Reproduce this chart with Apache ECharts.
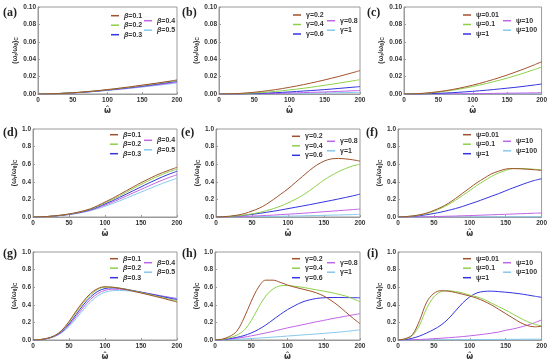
<!DOCTYPE html>
<html><head><meta charset="utf-8">
<script src="https://cdn.jsdelivr.net/npm/echarts@6/dist/echarts.min.js"></script>
<style>html,body{margin:0;padding:0;background:#fff}#c{width:550px;height:362px}</style>
</head><body><div id="c"></div>
<script>
const omega = [0,10,20,30,40,50,60,70,80,90,100,110,120,130,140,150,160,170,180,190,200];
const xTicks = [0,50,100,150,200];
const betaNames = ['β=0.1','β=0.2','β=0.3','β=0.4','β=0.5'];
const gammaNames = ['γ=0.2','γ=0.4','γ=0.6','γ=0.8','γ=1'];
const psiNames = ['ψ=0.01','ψ=0.1','ψ=1','ψ=10','ψ=100'];
const panelLabels = ['(a)','(b)','(c)','(d)','(e)','(f)','(g)','(h)','(i)'];

// (a)
const a1 = [0,0.0001,0.0003,0.0006,0.001,0.0015,0.002,0.0027,0.0034,0.0042,0.0051,0.006,0.007,0.008,0.0091,0.0102,0.0113,0.0124,0.0136,0.0148,0.0162];
const a2 = [0,0.0001,0.0003,0.0006,0.001,0.0014,0.0019,0.0026,0.0033,0.0041,0.0049,0.0058,0.0067,0.0077,0.0087,0.0098,0.0109,0.012,0.0131,0.0143,0.0155];
const a3 = [0,0.0001,0.0003,0.0005,0.0009,0.0013,0.0018,0.0024,0.0031,0.0038,0.0046,0.0054,0.0063,0.0072,0.0081,0.0091,0.0101,0.0112,0.0123,0.0134,0.0145];
const a4 = [0,0.0001,0.0002,0.0005,0.0008,0.0012,0.0017,0.0023,0.0029,0.0036,0.0043,0.0051,0.0059,0.0067,0.0076,0.0085,0.0095,0.0104,0.0114,0.0125,0.0135];
const a5 = [0,0.0001,0.0002,0.0005,0.0008,0.0012,0.0016,0.0021,0.0027,0.0034,0.0041,0.0048,0.0055,0.0063,0.0071,0.008,0.0089,0.0098,0.0107,0.0116,0.0125];
// (b)
const b1 = [0,0.0001,0.0003,0.0007,0.0013,0.002,0.0029,0.0039,0.005,0.0063,0.0077,0.0092,0.0108,0.0125,0.0143,0.0162,0.0182,0.0202,0.0224,0.0246,0.0269];
const b2 = [0,0.0001,0.0002,0.0005,0.0008,0.0012,0.0017,0.0023,0.003,0.0038,0.0047,0.0056,0.0066,0.0077,0.0088,0.01,0.0112,0.0125,0.0138,0.0151,0.0165];
const b3 = [0,0,0.0001,0.0002,0.0004,0.0006,0.0009,0.0012,0.0015,0.0019,0.0024,0.0029,0.0034,0.0039,0.0045,0.0051,0.0057,0.0064,0.0071,0.0078,0.0085];
const b4 = [0,0,0.0001,0.0001,0.0002,0.0003,0.0004,0.0005,0.0007,0.0009,0.0011,0.0013,0.0016,0.0018,0.0021,0.0024,0.0027,0.003,0.0033,0.0037,0.004];
const b5 = [0,0,0,0.0001,0.0001,0.0001,0.0002,0.0003,0.0004,0.0005,0.0006,0.0007,0.0008,0.0009,0.001,0.0012,0.0013,0.0015,0.0016,0.0018,0.002];
// (c)
const c1 = [0,0.0001,0.0004,0.0009,0.0017,0.0027,0.0038,0.0051,0.0066,0.0083,0.0102,0.0122,0.0144,0.0167,0.0192,0.0218,0.0246,0.0275,0.0305,0.0337,0.037];
const c2 = [0,0.0001,0.0003,0.0008,0.0014,0.0022,0.0032,0.0043,0.0056,0.007,0.0086,0.0103,0.0121,0.0141,0.0161,0.0183,0.0206,0.023,0.0256,0.0282,0.031];
const c3 = [0,0,0.0001,0.0003,0.0005,0.0008,0.0011,0.0015,0.002,0.0025,0.0031,0.0037,0.0044,0.0051,0.0059,0.0067,0.0075,0.0084,0.0094,0.0104,0.0115];
const c4 = [0,0,0,0,0.0001,0.0001,0.0001,0.0002,0.0002,0.0003,0.0004,0.0005,0.0006,0.0007,0.0008,0.0009,0.001,0.0011,0.0012,0.0013,0.0015];
const c5 = [0,0,0,0,0,0,0,0,0,0,0.0001,0.0001,0.0001,0.0001,0.0001,0.0001,0.0001,0.0001,0.0002,0.0002,0.0002];
// (d)
const d1 = [0,0.002,0.006,0.013,0.022,0.034,0.05,0.07,0.094,0.13,0.17,0.21,0.255,0.3,0.345,0.39,0.43,0.47,0.505,0.535,0.565];
const d2 = [0,0.002,0.006,0.012,0.021,0.033,0.048,0.067,0.09,0.122,0.16,0.198,0.24,0.283,0.327,0.37,0.41,0.45,0.485,0.517,0.545];
const d3 = [0,0.002,0.005,0.011,0.02,0.031,0.045,0.062,0.084,0.113,0.148,0.183,0.222,0.262,0.302,0.342,0.382,0.42,0.457,0.49,0.52];
const d4 = [0,0.002,0.005,0.011,0.019,0.029,0.042,0.058,0.078,0.104,0.135,0.167,0.203,0.24,0.277,0.313,0.35,0.386,0.42,0.452,0.48];
const d5 = [0,0.002,0.005,0.01,0.018,0.027,0.039,0.054,0.072,0.095,0.122,0.151,0.183,0.216,0.25,0.283,0.317,0.35,0.382,0.412,0.44];
// (e)
const e1 = [0,0.003,0.01,0.022,0.04,0.068,0.1,0.145,0.2,0.26,0.32,0.39,0.46,0.53,0.59,0.635,0.66,0.665,0.66,0.65,0.635];
const e2 = [0,0.002,0.006,0.013,0.022,0.036,0.052,0.072,0.096,0.125,0.16,0.2,0.245,0.3,0.36,0.42,0.47,0.515,0.55,0.58,0.6];
const e3 = [0,0.002,0.006,0.012,0.02,0.03,0.041,0.053,0.066,0.08,0.095,0.11,0.125,0.14,0.156,0.172,0.188,0.205,0.222,0.24,0.26];
const e4 = [0,0.001,0.002,0.004,0.007,0.01,0.014,0.018,0.022,0.027,0.032,0.037,0.042,0.048,0.054,0.06,0.066,0.072,0.078,0.084,0.09];
const e5 = [0,0,0.001,0.001,0.002,0.003,0.004,0.005,0.007,0.008,0.01,0.011,0.013,0.015,0.017,0.019,0.021,0.023,0.025,0.027,0.03];
// (f)
const f1 = [0,0.004,0.012,0.025,0.045,0.075,0.11,0.155,0.21,0.27,0.33,0.39,0.44,0.49,0.52,0.545,0.55,0.548,0.543,0.537,0.53];
const f2 = [0,0.003,0.01,0.022,0.04,0.065,0.1,0.14,0.19,0.245,0.3,0.36,0.41,0.46,0.5,0.53,0.55,0.552,0.548,0.542,0.535];
const f3 = [0,0.002,0.007,0.015,0.026,0.04,0.056,0.075,0.096,0.12,0.148,0.175,0.205,0.235,0.265,0.298,0.33,0.36,0.39,0.415,0.435];
const f4 = [0,0,0.001,0.002,0.003,0.005,0.007,0.009,0.011,0.014,0.016,0.019,0.022,0.025,0.028,0.031,0.034,0.037,0.04,0.043,0.046];
const f5 = [0,0,0,0,0,0.001,0.001,0.001,0.001,0.001,0.002,0.002,0.002,0.002,0.003,0.003,0.003,0.003,0.004,0.004,0.004];
// (g)
const g1 = [0,0.005,0.02,0.05,0.11,0.21,0.33,0.44,0.53,0.585,0.605,0.6,0.588,0.572,0.553,0.534,0.515,0.495,0.475,0.453,0.432];
const g2 = [0,0.005,0.019,0.048,0.105,0.2,0.315,0.425,0.515,0.575,0.6,0.6,0.59,0.575,0.557,0.54,0.521,0.502,0.482,0.462,0.443];
const g3 = [0,0.004,0.018,0.045,0.097,0.182,0.29,0.4,0.49,0.553,0.585,0.592,0.588,0.576,0.56,0.544,0.527,0.51,0.492,0.475,0.458];
const g4 = [0,0.004,0.017,0.042,0.09,0.168,0.268,0.372,0.463,0.528,0.565,0.577,0.577,0.57,0.558,0.544,0.529,0.514,0.498,0.483,0.468];
const g5 = [0,0.004,0.016,0.039,0.083,0.152,0.245,0.345,0.435,0.502,0.543,0.56,0.563,0.56,0.551,0.539,0.526,0.513,0.499,0.486,0.475];
// (h)
const h1 = [0,0.01,0.04,0.1,0.25,0.44,0.6,0.68,0.68,0.655,0.625,0.6,0.58,0.56,0.535,0.5,0.45,0.39,0.32,0.25,0.185];
const h2 = [0,0.006,0.025,0.055,0.11,0.22,0.37,0.5,0.58,0.615,0.62,0.61,0.6,0.585,0.57,0.555,0.54,0.52,0.5,0.47,0.435];
const h3 = [0,0.004,0.015,0.03,0.05,0.08,0.12,0.17,0.23,0.29,0.345,0.39,0.43,0.455,0.472,0.48,0.483,0.483,0.482,0.481,0.48];
const h4 = [0,0.003,0.01,0.02,0.032,0.047,0.063,0.08,0.098,0.118,0.138,0.155,0.172,0.19,0.207,0.223,0.24,0.255,0.27,0.285,0.3];
const h5 = [0,0.001,0.004,0.008,0.012,0.017,0.022,0.027,0.033,0.039,0.045,0.051,0.057,0.063,0.069,0.075,0.082,0.089,0.097,0.106,0.116];
// (i)
const i1 = [0,0.015,0.06,0.22,0.43,0.53,0.56,0.555,0.54,0.52,0.5,0.475,0.44,0.4,0.35,0.3,0.25,0.2,0.165,0.15,0.155];
const i2 = [0,0.012,0.05,0.17,0.36,0.49,0.55,0.56,0.55,0.535,0.51,0.49,0.46,0.42,0.38,0.34,0.295,0.25,0.21,0.18,0.16];
const i3 = [0,0.005,0.02,0.045,0.08,0.12,0.17,0.24,0.33,0.42,0.49,0.535,0.552,0.555,0.55,0.543,0.535,0.525,0.512,0.498,0.485];
const i4 = [0,0.001,0.003,0.006,0.01,0.015,0.02,0.026,0.032,0.039,0.047,0.056,0.066,0.077,0.09,0.11,0.125,0.145,0.168,0.196,0.228];
const i5 = [0,0,0.001,0.001,0.002,0.002,0.003,0.003,0.004,0.004,0.005,0.005,0.006,0.006,0.007,0.007,0.008,0.008,0.009,0.009,0.01];

const colors = ['#a0522d','#8fd04a','#3434e0','#c064e6','#86c8ec'];
const panels = [
  {names: betaNames, data:[a1,a2,a3,a4,a5]},
  {names: gammaNames, data:[b1,b2,b3,b4,b5]},
  {names: psiNames, data:[c1,c2,c3,c4,c5]},
  {names: betaNames, data:[d1,d2,d3,d4,d5]},
  {names: gammaNames, data:[e1,e2,e3,e4,e5]},
  {names: psiNames, data:[f1,f2,f3,f4,f5]},
  {names: betaNames, data:[g1,g2,g3,g4,g5]},
  {names: gammaNames, data:[h1,h2,h3,h4,h5]},
  {names: psiNames, data:[i1,i2,i3,i4,i5]}
];

// layout
const gridBox = [
  [38,7,177,94],[219,7,360,94],[404,7,542,94],
  [33,129,177,217],[216,129,360,217],[398,129,542,217],
  [33,252,177,341],[215,252,360,341],[398,252,542,341]
];
const legendPos = [
  [111,15.7,144,20.7],[293,15,327,20.7],[463,15,503,20.7],
  [110,134.7,144,140.3],[292,136.3,327,141.3],[463,134.7,503,141.3],
  [110,258.7,144,262.7],[292,258.7,327,262.7],[463,258.7,503,262.7]
];
const labelPos = [[3,13.5],[182,13.5],[367,13.5],[3,134],[181,134],[366,134],[3,254.5],[182,254.5],[367,254.5]];

const fontFam = '"Liberation Sans", Arial, sans-serif';
const grids=[], xAxes=[], yAxes=[], series=[], legends=[], graphics=[];
panels.forEach((p,k)=>{
  const [l,t,r,b] = gridBox[k];
  const row = Math.floor(k/3);
  grids.push({left:l, top:t, width:r-l, height:b-t, show:true, borderColor:'#9a9a9a', borderWidth:1, containLabel:false});
  xAxes.push({type:'value', gridIndex:k, min:0, max:200, interval:50,
    name:'ω\u0302', nameLocation:'middle', nameGap:13,
    nameTextStyle:{fontSize:8, fontWeight:'bold', color:'#333', fontFamily:'"DejaVu Sans", sans-serif'},
    axisLine:{lineStyle:{color:'#9a9a9a'}},
    axisTick:{inside:true, length:2, lineStyle:{color:'#9a9a9a'}},
    splitLine:{show:false},
    axisLabel:{fontSize:6.5, fontWeight:'bold', color:'#333', margin:3, fontFamily:fontFam}});
  const small = row===0;
  yAxes.push({type:'value', gridIndex:k, min:0, max: small?0.1:1, interval: small?0.02:0.2,
    name:'{a|(ω}{s|r}{a|/ω}{s|θ}{a|)}{s|C}', nameLocation:'middle', nameRotate:90, nameGap: small?15:12,
    nameTextStyle:{color:'#333', fontFamily:fontFam, rich:{
      a:{fontSize:7, fontWeight:'bold', color:'#333', fontFamily:fontFam, lineHeight:9},
      s:{fontSize:5, fontWeight:'bold', color:'#333', fontFamily:fontFam, lineHeight:9, verticalAlign:'bottom'}}},
    axisLine:{show:true, lineStyle:{color:'#9a9a9a'}},
    axisTick:{show:true, inside:true, length:2, lineStyle:{color:'#9a9a9a'}},
    splitLine:{show:false},
    axisLabel:{fontSize:6.5, fontWeight:'bold', color:'#333', margin:2, fontFamily:fontFam,
      formatter: v => v.toFixed(small?2:1)}});
  p.data.forEach((arr,j)=>{
    series.push({type:'line', name:p.names[j], xAxisIndex:k, yAxisIndex:k,
      data: omega.map((x,i)=>[x,arr[i]]), smooth:0.35, showSymbol:false, symbol:'none',
      lineStyle:{width:1, color:colors[j]}, itemStyle:{color:colors[j]}, z: 10-j});
  });
  const lp = legendPos[k];
  const legBase = {orient:'vertical', icon:'rect', itemWidth:8, itemHeight:1.5, itemGap:1.5, padding:0,
    selectedMode:false,
    formatter: n => n.replace(/^β/, '{i|β}'),
    textStyle:{fontSize:7, fontWeight:'bold', color:'#333', fontFamily:fontFam, lineHeight:8,
      rich:{i:{fontSize:7, fontWeight:'bold', fontStyle:'italic', color:'#333', fontFamily:fontFam, lineHeight:8}}}};
  legends.push(Object.assign({}, legBase, {left:lp[0], top:lp[1]-4, data:p.names.slice(0,3)}));
  legends.push(Object.assign({}, legBase, {left:lp[2], top:lp[3]-4, data:p.names.slice(3)}));
  graphics.push({type:'text', left:labelPos[k][0], top:labelPos[k][1]-7,
    style:{text:panelLabels[k], font:'bold 12px "Liberation Serif", "Times New Roman", serif', fill:'#222'}});
});

const chart = echarts.init(document.getElementById('c'), null, {renderer:'canvas'});
chart.setOption({animation:false, backgroundColor:'#fff', color:colors,
  grid:grids, xAxis:xAxes, yAxis:yAxes, series:series, legend:legends, graphic:graphics});
</script>
</body></html>
